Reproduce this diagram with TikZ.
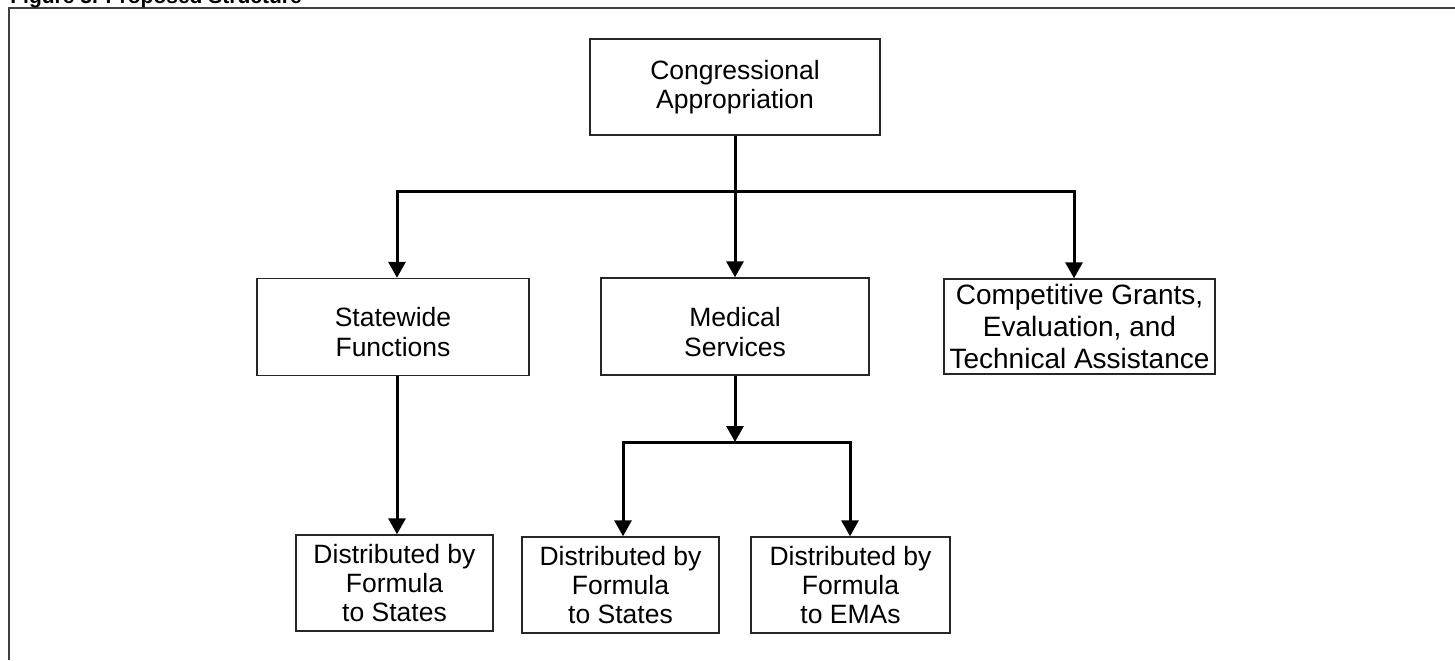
\documentclass[tikz,border=0pt]{standalone}
\usepackage{fontspec}
\setmainfont{Liberation Sans}
\usetikzlibrary{arrows.meta}
\begin{document}
\begin{tikzpicture}[x=0.5pt,y=-0.5pt,
  box/.style={draw=black!85,line width=0.7pt,inner sep=0pt,align=center,
    font=\fontsize{13.25}{14.5}\selectfont},
  midbox/.style={box,minimum height=48.5pt,text height=29.5pt,text depth=0pt,
    font=\fontsize{13.25}{15}\selectfont},
  conn/.style={line width=1.5pt,line join=miter},
  arr/.style={conn,-{Triangle[length=8pt,width=8.5pt]}}]
\useasboundingbox (0,0) rectangle (1455,660);
\draw[black!75,line width=1pt] (9,660) -- (9,8) -- (1455,8);
\node[anchor=base west,font=\fontsize{10.5}{12}\selectfont\bfseries,inner sep=0pt] (title) at (10,3.5) {Figure 3. Proposed Structure};

\node[box,minimum width=145pt,minimum height=48pt] (cong) at (735,87) {Congressional\\Appropriation};
\node[midbox,minimum width=136pt] (sw) at (393,327) {Statewide\\Functions};
\node[midbox,minimum width=134pt] (med) at (735,326.5) {Medical\\Services};
\node[box,minimum width=135.5pt,minimum height=47.5pt,font=\fontsize{14}{16}\selectfont] (comp) at (1079.5,326.5) {Competitive Grants,\\Evaluation, and\\Technical Assistance};
\node[box,minimum width=98.5pt,minimum height=48pt] (d1) at (394.5,583) {Distributed by\\Formula\\to States};
\node[box,minimum width=98.5pt,minimum height=48pt] (d2) at (620.5,585) {Distributed by\\Formula\\to States};
\node[box,minimum width=99.5pt,minimum height=48pt] (d3) at (850.5,585) {Distributed by\\Formula\\to EMAs};

\coordinate (bL) at (397,191);
\coordinate (bR) at (1074,191);
\draw[arr] (cong) -- (med);
\draw[arr] (bL) -- (bR) -- (comp.north -| bR);
\draw[arr] (bR) -- (bL) -- (sw.north -| bL);
\draw[arr] (sw.south -| bL) -- (d1.north -| bL);

\coordinate (m) at (735,442);
\coordinate (mL) at (623,442);
\coordinate (mR) at (850,442);
\draw[arr] (med) -- (m);
\draw[arr] (mR) -- (mL) -- (d2.north -| mL);
\draw[arr] (mL) -- (mR) -- (d3.north -| mR);
\end{tikzpicture}
\end{document}
